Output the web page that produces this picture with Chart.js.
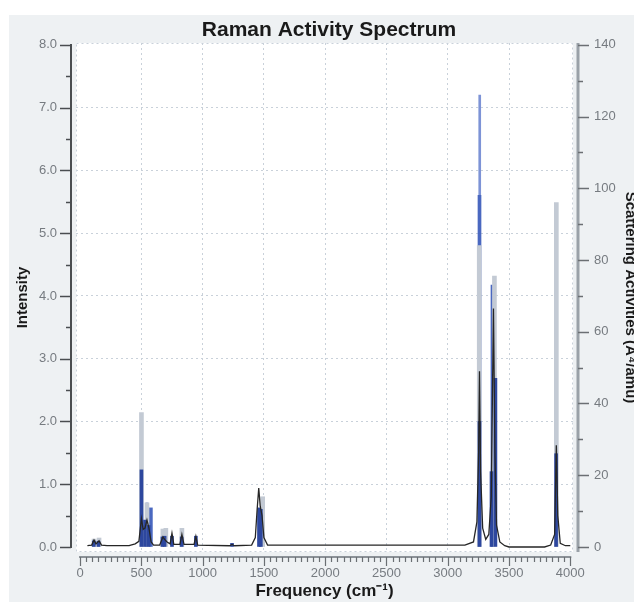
<!DOCTYPE html>
<html>
<head>
<meta charset="utf-8">
<script src="https://cdn.jsdelivr.net/npm/chart.js@4.4.1/dist/chart.umd.min.js"></script>
<style>
  html, body { margin: 0; padding: 0; background: #ffffff; }
  #wrap { width: 634px; height: 602px; }
</style>
</head>
<body>
<div id="wrap"><canvas id="chart" width="634" height="602"></canvas></div>
<script>
// broadened spectrum (left axis, intensity)
const spectrumFreq = [60, 95, 114, 130, 155, 175, 220, 400, 450, 480, 501, 515, 530, 546, 562, 580, 600, 650, 676, 690, 710, 735, 750, 765, 815, 831, 848, 930, 945, 960, 1220, 1240, 1260, 1400, 1430, 1445, 1458, 1470, 1485, 1500, 1530, 3140, 3210, 3238, 3252, 3259, 3268, 3285, 3310, 3335, 3355, 3373, 3385, 3398, 3425, 3465, 3500, 3790, 3840, 3872, 3886, 3898, 3918, 3960, 4000];
const spectrumInt  = [0.02, 0.03, 0.11, 0.05, 0.1, 0.03, 0.02, 0.02, 0.05, 0.09, 0.45, 0.28, 0.3, 0.43, 0.3, 0.08, 0.03, 0.03, 0.16, 0.12, 0.08, 0.05, 0.22, 0.04, 0.04, 0.2, 0.04, 0.04, 0.17, 0.03, 0.02, 0.04, 0.02, 0.03, 0.15, 0.6, 0.94, 0.65, 0.5, 0.15, 0.03, 0.03, 0.08, 0.4, 1.5, 2.8, 1.2, 0.3, 0.12, 0.2, 0.8, 3.8, 1.5, 0.35, 0.08, 0.02, 0.0, 0.0, 0.03, 0.2, 1.62, 0.5, 0.06, 0.02, 0.02];

// scattering activity sticks (right axis)
const paleFreq = [546, 3261];
const paleAct  = [12.3, 126];
const midFreq  = [578, 3259, 3365];
const midAct   = [10.9, 98, 73];
const grayFreq = [114, 155, 501, 546, 676, 700, 831, 1490, 3257, 3381, 3886];
const grayAct  = [2.2, 2.5, 37.5, 12.3, 5, 5.2, 5.2, 14, 84, 75.5, 96];
const darkFreq = [112, 150, 501, 530, 560, 672, 690, 750, 829, 945, 1240, 1460, 1475, 3259, 3357, 3389, 3884];
const darkAct  = [1.7, 1.6, 21.5, 7.5, 6, 2.8, 3, 3, 2.8, 3, 1, 10.9, 10.5, 35, 21, 47, 26];

const font = "'Liberation Sans', Arial, sans-serif";
const gridColor = '#c9d1da';
const tickLabelColor = '#767b80';

function pairs(xs, ys) {
    return xs.map((x, i) => ({ x: x, y: ys[i] }));
}

const isWhole = (v, step) => Math.abs(v / step - Math.round(v / step)) < 1e-6;

const panelBackground = {
    id: 'panelBackground',
    beforeDraw(chart) {
        const { ctx, chartArea } = chart;
        ctx.save();
        ctx.fillStyle = '#eef1f3';
        ctx.fillRect(9, 15, chart.width - 9, chart.height - 15);
        ctx.fillStyle = '#ffffff';
        ctx.fillRect(chartArea.left, chartArea.top, chartArea.right - chartArea.left, chartArea.bottom - chartArea.top);
        ctx.restore();
    },
    afterDatasetsDraw(chart) {
        const { ctx, chartArea } = chart;
        ctx.save();
        ctx.strokeStyle = gridColor;
        ctx.setLineDash([2, 3]);
        ctx.lineWidth = 1;
        ctx.strokeRect(chartArea.left + 0.5, chartArea.top + 0.5, chartArea.right - chartArea.left - 1, chartArea.bottom - chartArea.top - 1);
        ctx.restore();
    }
};

// axis lines sit a few pixels away from the plot, like the original
const axisFrame = {
    id: 'axisFrame',
    afterDraw(chart) {
        const { ctx, chartArea, scales } = chart;
        const { x, y, y2 } = scales;
        const seg = (x1, y1, x2, y2_) => {
            ctx.beginPath();
            ctx.moveTo(x1, y1);
            ctx.lineTo(x2, y2_);
            ctx.stroke();
        };
        ctx.save();

        // left
        const lx = chartArea.left - 5;
        ctx.strokeStyle = '#4a4d50';
        ctx.lineWidth = 2;
        seg(lx, y.getPixelForValue(8) - 1, lx, y.getPixelForValue(0) + 1);
        ctx.lineWidth = 1.5;
        y.ticks.forEach(t => {
            if (t.value < 0 || t.value > 8) return;
            const py = Math.round(y.getPixelForValue(t.value)) + 0.5;
            seg(lx - (isWhole(t.value, 1) ? 11 : 5), py, lx, py);
        });

        // right
        const rx = chartArea.right + 5;
        ctx.strokeStyle = '#9aa1a8';
        ctx.lineWidth = 3;
        seg(rx, chartArea.top, rx, chartArea.bottom);
        ctx.strokeStyle = '#6b6f73';
        ctx.lineWidth = 1.5;
        y2.ticks.forEach(t => {
            if (t.value < 0 || t.value > 140) return;
            const py = Math.round(y2.getPixelForValue(t.value)) + 0.5;
            seg(rx, py, rx + (isWhole(t.value, 20) ? 11 : 5), py);
        });

        // bottom
        const by = chartArea.bottom + 5;
        ctx.strokeStyle = '#8c9298';
        ctx.lineWidth = 2;
        seg(x.getPixelForValue(0) - 1, by, x.getPixelForValue(4000) + 1, by);
        ctx.strokeStyle = '#6b6f73';
        ctx.lineWidth = 1.2;
        x.ticks.forEach(t => {
            if (t.value < 0 || t.value > 4000) return;
            const px = Math.round(x.getPixelForValue(t.value)) + 0.5;
            seg(px, by, px, by + (isWhole(t.value, 500) ? 9 : 5));
        });
        ctx.restore();
    }
};

const stick = (label, xs, ys, color, width, order) => ({
    type: 'bar',
    label: label,
    data: pairs(xs, ys),
    backgroundColor: color,
    borderWidth: 0,
    barThickness: width,
    grouped: false,
    yAxisID: 'y2',
    order: order
});

new Chart(document.getElementById('chart'), {
    type: 'bar',
    data: {
        datasets: [
            {
                type: 'line',
                label: 'Spectrum',
                data: pairs(spectrumFreq, spectrumInt),
                borderColor: '#262626',
                borderWidth: 1.3,
                pointRadius: 0,
                tension: 0,
                yAxisID: 'y',
                order: 0
            },
            stick('Activity', darkFreq, darkAct, '#2d479e', 3, 1),
            stick('Activity 2', grayFreq, grayAct, '#c3cad4', 4, 2),
            stick('Activity 3', midFreq, midAct, '#4a68c0', 3, 3),
            stick('Activity 4', paleFreq, paleAct, '#7d93d6', 2, 4)
        ]
    },
    options: {
        responsive: false,
        animation: false,
        layout: { padding: { left: 24, right: 0, top: 14, bottom: 0 } },
        plugins: {
            legend: { display: false },
            tooltip: { enabled: false },
            title: {
                display: true,
                text: 'Raman Activity Spectrum',
                color: '#1a1a1a',
                font: { family: font, size: 21, weight: 'bold' },
                padding: { top: 3.4, bottom: 0.4 }
            }
        },
        scales: {
            x: {
                type: 'linear',
                min: -33,
                max: 4022,
                offset: false,
                afterFit: (scale) => { scale.height = 50; },
                ticks: {
                    stepSize: 50,
                    includeBounds: false,
                    autoSkip: false,
                    maxRotation: 0,
                    padding: 9,
                    color: tickLabelColor,
                    font: { family: font, size: 13 },
                    callback: (v) => (isWhole(v, 500) ? String(Math.round(v)) : '')
                },
                grid: {
                    offset: false,
                    color: (c) => (c.tick && isWhole(c.tick.value, 500) && c.tick.value > 0 && c.tick.value < 4000 ? gridColor : 'rgba(0,0,0,0)'),
                    tickColor: 'rgba(0,0,0,0)',
                    tickLength: 5
                },
                border: { display: false, dash: [2, 3] },
                title: {
                    display: true,
                    text: 'Frequency (cm\u207B\u00B9)',
                    color: '#1a1a1a',
                    font: { family: font, size: 17, weight: 'bold' },
                    padding: { top: 0, bottom: 0 }
                }
            },
            y: {
                position: 'left',
                min: -0.08,
                max: 8.03,
                afterFit: (scale) => { scale.width = 52; },
                ticks: {
                    stepSize: 0.5,
                    includeBounds: false,
                    autoSkip: false,
                    padding: 14,
                    color: tickLabelColor,
                    font: { family: font, size: 13 },
                    callback: (v) => (isWhole(v, 1) ? v.toFixed(1) : '')
                },
                grid: {
                    color: (c) => (c.tick && isWhole(c.tick.value, 1) && c.tick.value > 0 && c.tick.value < 8 ? gridColor : 'rgba(0,0,0,0)'),
                    tickColor: 'rgba(0,0,0,0)',
                    tickLength: 5
                },
                border: { display: false, dash: [2, 3] },
                title: {
                    display: true,
                    text: 'Intensity',
                    color: '#1a1a1a',
                    font: { family: font, size: 15, weight: 'bold' },
                    padding: { top: -10, bottom: 0 }
                }
            },
            y2: {
                position: 'right',
                min: -1.4,
                max: 140.5,
                afterFit: (scale) => { scale.width = 61; },
                ticks: {
                    stepSize: 10,
                    includeBounds: false,
                    autoSkip: false,
                    padding: 16,
                    color: tickLabelColor,
                    font: { family: font, size: 13 },
                    callback: (v) => (isWhole(v, 20) ? String(Math.round(v)) : '')
                },
                grid: {
                    drawOnChartArea: false,
                    tickColor: 'rgba(0,0,0,0)',
                    tickLength: 5
                },
                border: { display: false },
                title: {
                    display: true,
                    text: 'Scattering Activities (\u00C5\u2074/amu)',
                    color: '#1a1a1a',
                    font: { family: font, size: 15, weight: 'bold' },
                    padding: { top: -5, bottom: 0 }
                }
            }
        }
    },
    plugins: [panelBackground, axisFrame]
});
</script>
</body>
</html>
